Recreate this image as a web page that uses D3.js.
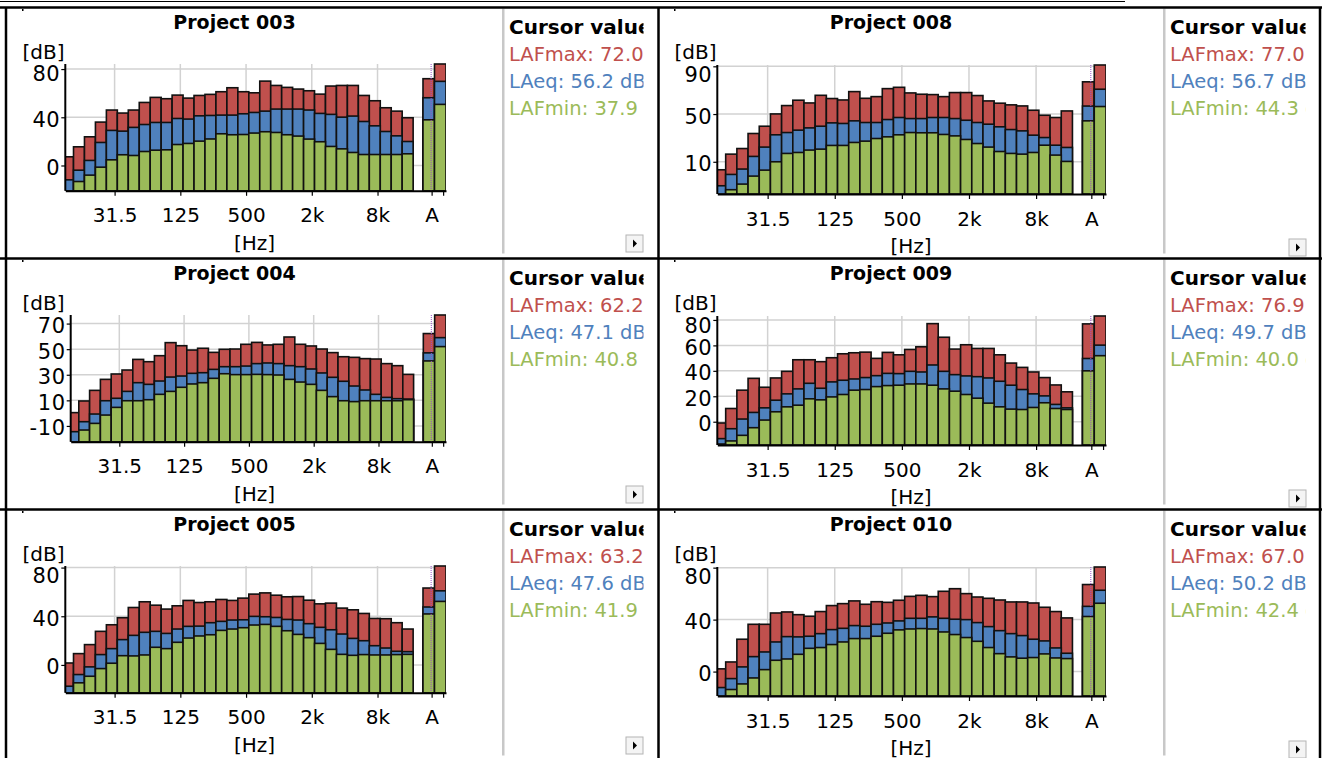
<!DOCTYPE html>
<html>
<head>
<meta charset="utf-8">
<script src="https://cdn.jsdelivr.net/npm/d3@7"></script>
<style>
  body { margin: 0; background: #fff; }
  svg { display: block; font-family: 'DejaVu Sans', Verdana, sans-serif; }
</style>
</head>
<body>
<script>
// 1/3-octave bands shown in every panel
const bands = ['12.5', '16', '20', '25', '31.5', '40', '50', '63', '80', '100', '125', '160',
  '200', '250', '315', '400', '500', '630', '800', '1k', '1.25k', '1.6k', '2k', '2.5k',
  '3.15k', '4k', '5k', '6.3k', '8k', '10k', '12.5k', '16k'];
const freqTicks = ['31.5', '125', '500', '2k', '8k'];
const overallLabels = ['A', ''];

const projects = ['Project 003', 'Project 008', 'Project 004', 'Project 009', 'Project 005', 'Project 010'];

// per band levels in dB (LAFmax, LAeq, LAFmin)
const p003Max = [7.2, 15.5, 23.8, 36.0, 46.0, 43.5, 46.0, 52.3, 56.5, 55.4, 58.4, 55.9, 58.1, 59.0, 61.2, 64.5, 61.2, 60.3, 70.0, 66.4, 64.8, 63.4, 62.0, 59.2, 65.9, 66.4, 66.4, 58.1, 53.7, 47.9, 45.1, 39.6];
const p003Eq = [-11.9, -3.9, 4.2, 19.1, 29.1, 28.5, 31.6, 34.0, 35.7, 35.7, 39.0, 38.5, 41.2, 41.5, 41.8, 41.8, 42.9, 44.0, 45.1, 46.8, 46.8, 46.8, 46.0, 43.2, 42.4, 40.1, 41.0, 36.5, 32.9, 28.2, 24.6, 19.9];
const p003Min = [-25.0, -13.3, -8.0, -1.4, 4.7, 8.9, 8.3, 11.6, 12.7, 13.0, 17.4, 18.3, 20.2, 22.0, 26.3, 25.5, 25.7, 26.9, 28.0, 27.4, 25.5, 24.4, 21.9, 19.7, 15.8, 13.8, 10.8, 9.1, 9.1, 9.1, 9.1, 9.7];

const p008Max = [3.3, 16.4, 21.1, 33.7, 39.8, 50.1, 57.1, 61.6, 59.3, 65.7, 63.0, 61.8, 68.8, 63.2, 64.6, 71.3, 72.4, 67.7, 66.6, 66.3, 64.6, 68.0, 68.0, 65.5, 61.0, 59.1, 57.7, 56.8, 53.2, 49.0, 47.1, 52.6];
const p008Eq = [-10.1, -0.6, 3.9, 14.5, 22.3, 32.6, 34.5, 36.5, 38.4, 39.8, 42.6, 42.1, 44.3, 42.9, 42.9, 45.4, 47.1, 46.2, 46.2, 47.1, 47.1, 46.2, 44.8, 42.9, 41.5, 39.3, 37.0, 35.9, 32.3, 30.3, 23.9, 22.0];
const p008Min = [-20.0, -13.4, -8.7, -2.0, 3.0, 10.0, 17.0, 17.8, 19.8, 20.6, 23.7, 23.7, 26.2, 27.3, 29.5, 30.9, 32.6, 34.5, 34.3, 34.3, 32.9, 31.7, 28.7, 25.3, 22.3, 18.6, 17.0, 16.4, 17.8, 23.9, 15.6, 10.3];

const p004Max = [0.4, 9.5, 17.8, 26.4, 30.6, 33.7, 42.0, 40.2, 44.9, 55.1, 52.7, 49.3, 50.7, 47.5, 49.9, 50.1, 53.8, 55.3, 53.3, 53.8, 59.5, 53.8, 52.5, 50.1, 47.3, 44.1, 43.6, 42.6, 42.3, 38.7, 37.1, 30.3];
const p004Eq = [-14.5, -6.7, -0.7, 9.7, 11.6, 17.0, 23.8, 22.5, 25.1, 28.2, 29.0, 31.1, 31.6, 34.2, 36.3, 36.3, 36.8, 38.7, 39.2, 38.7, 37.1, 36.3, 34.5, 31.4, 28.0, 24.9, 21.2, 18.1, 14.7, 12.3, 11.3, 11.0];
const p004Min = [-25.0, -13.2, -8.0, -1.5, 4.5, 9.7, 9.7, 10.5, 14.7, 17.0, 20.2, 22.8, 23.8, 27.2, 30.8, 30.1, 30.1, 30.3, 30.1, 29.8, 26.4, 24.3, 22.5, 17.8, 12.9, 9.7, 9.0, 9.7, 9.7, 9.7, 9.7, 10.5];

const p009Max = [-1.0, 10.4, 24.8, 34.1, 27.1, 34.4, 39.6, 48.7, 48.7, 47.2, 50.3, 53.4, 54.2, 54.7, 49.8, 54.5, 52.6, 56.8, 58.9, 77.1, 66.4, 57.1, 60.5, 57.6, 57.6, 52.6, 46.1, 42.7, 39.1, 34.7, 28.9, 23.5];
const p009Eq = [-13.3, -5.5, 2.1, 7.3, 10.9, 16.9, 21.9, 25.8, 30.2, 26.3, 31.3, 32.6, 33.6, 34.7, 36.2, 38.0, 37.8, 39.6, 39.1, 44.6, 39.6, 37.0, 36.0, 35.4, 34.4, 31.8, 28.7, 25.3, 21.9, 20.3, 13.6, 10.9];
const p009Min = [-17.5, -15.1, -10.7, -4.7, 1.3, 7.8, 11.7, 13.0, 18.0, 17.2, 19.5, 21.4, 24.8, 25.3, 27.6, 28.4, 28.7, 29.7, 29.7, 28.7, 25.8, 24.0, 21.4, 18.5, 14.6, 11.7, 9.9, 9.6, 11.2, 14.9, 10.4, 9.6];

const p005Max = [1.6, 9.3, 16.7, 27.6, 33.0, 38.8, 47.2, 51.9, 49.1, 45.9, 48.6, 53.0, 51.3, 51.9, 53.8, 53.0, 54.9, 58.2, 59.2, 57.3, 56.0, 56.2, 53.2, 50.2, 50.8, 46.7, 45.3, 42.3, 38.2, 38.0, 34.7, 29.5];
const p005Eq = [-17.5, -7.9, -1.6, 8.5, 13.4, 20.8, 24.3, 26.8, 27.6, 25.9, 29.5, 31.7, 31.9, 34.7, 35.8, 36.9, 37.1, 39.9, 39.6, 39.0, 37.4, 36.9, 33.9, 30.9, 28.9, 25.4, 21.8, 19.9, 15.8, 13.9, 11.2, 10.9];
const p005Min = [-26.0, -14.7, -9.3, -3.0, 1.4, 7.6, 7.4, 8.2, 14.5, 13.4, 18.6, 22.1, 23.8, 24.8, 28.4, 29.5, 30.6, 32.8, 33.3, 31.7, 28.1, 25.1, 22.4, 17.7, 12.8, 8.7, 7.9, 8.5, 8.2, 8.2, 8.5, 8.7];

const p010Max = [2.1, 7.4, 24.9, 36.4, 36.4, 45.1, 45.9, 43.8, 42.6, 46.2, 50.8, 52.3, 54.4, 51.8, 53.8, 53.3, 54.9, 57.9, 58.7, 57.7, 61.8, 63.8, 60.0, 57.4, 56.4, 55.1, 53.6, 53.6, 52.8, 49.5, 46.2, 41.3];
const p010Eq = [-12.3, -5.4, 3.6, 11.5, 15.1, 22.8, 26.9, 26.7, 27.2, 29.2, 32.3, 33.3, 35.4, 34.9, 36.4, 37.4, 39.0, 41.0, 41.0, 42.1, 41.0, 40.3, 40.0, 37.7, 34.6, 31.5, 29.2, 27.7, 24.9, 23.6, 18.2, 14.1];
const p010Min = [-22.0, -13.8, -9.5, -4.9, 1.5, 8.7, 9.7, 13.3, 17.9, 18.5, 20.8, 22.8, 25.4, 25.4, 27.2, 29.5, 32.1, 32.8, 33.1, 32.8, 30.5, 28.5, 26.2, 23.3, 18.5, 13.8, 11.3, 10.3, 10.8, 13.6, 10.5, 10.0];

// overall bars [A, unweighted] per project
const overallMax = [[72.0, 84.2], [77.0, 91.1], [62.2, 76.7], [76.9, 83.1], [63.2, 81.3], [67.0, 80.5]];
const overallEq = [[56.2, 69.8], [56.7, 70.8], [47.1, 59.0], [49.7, 60.2], [47.6, 60.9], [50.2, 62.6]];
const overallMin = [[37.9, 50.7], [44.3, 56.3], [40.8, 52.0], [40.0, 51.9], [41.9, 52.2], [42.4, 52.6]];

// y axis per project
const yBottoms = [-21, -17, -22.4, -18.3, -22.9, -18.8];
const yTickVals = [[0, 40, 80], [10, 50, 90], [-10, 10, 30, 50, 70], [0, 20, 40, 60, 80], [0, 40, 80], [0, 40, 80]];

const bandMax = [p003Max, p008Max, p004Max, p009Max, p005Max, p010Max];
const bandEq = [p003Eq, p008Eq, p004Eq, p009Eq, p005Eq, p010Eq];
const bandMin = [p003Min, p008Min, p004Min, p009Min, p005Min, p010Min];

const colors = { max: '#c0504d', eq: '#4f81bd', min: '#9bbb59' };

const W = 1322, H = 758;
const cols = [
  { x0: 6, divider: 503, plotRight: 446, top: 56.5, bottom: 183.3, clipRight: 643.5, btnX: 626, btnY: 227.5 },
  { x0: 658, divider: 1164, plotRight: 1106, top: 57.5, bottom: 186.5, clipRight: 1305.5, btnX: 1289, btnY: 231.5 }
];
const rowTops = [7.5, 258.5, 509.5];
const slotDomain = [0.25, 35];
const overallSlots = [32.9, 33.95];
const overallWidth = 1.05;
const tickOffset = 0.75;

const svg = d3.select('body').append('svg').attr('width', W).attr('height', H);
const defs = svg.append('defs');

projects.forEach((name, i) => {
  const c = cols[i % 2];
  const y0 = rowTops[Math.floor(i / 2)];
  const hasNeg = yTickVals[i].some(v => v < 0);
  const plotLeft = c.x0 + (hasNeg ? 64.7 : 59.3);
  const plotTop = y0 + c.top;
  const plotBottom = y0 + c.bottom;

  const g = svg.append('g');

  const x = d3.scaleLinear().domain(slotDomain).range([plotLeft, c.plotRight]);
  const top = d3.max([...bandMax[i], ...overallMax[i]]);
  const y = d3.scaleLinear().domain([yBottoms[i], top]).range([plotBottom, plotTop]);

  // grid
  g.append('g').selectAll('line').data(yTickVals[i]).join('line')
    .attr('x1', plotLeft).attr('x2', c.plotRight)
    .attr('y1', d => y(d)).attr('y2', d => y(d))
    .attr('stroke', '#d2d2d2').attr('stroke-width', 1.5);
  g.append('g').selectAll('line').data(freqTicks).join('line')
    .attr('x1', d => x(bands.indexOf(d) + tickOffset)).attr('x2', d => x(bands.indexOf(d) + tickOffset))
    .attr('y1', plotTop).attr('y2', plotBottom)
    .attr('stroke', '#d2d2d2').attr('stroke-width', 1.5);

  // bars
  const clipId = 'plot' + i;
  defs.append('clipPath').attr('id', clipId).append('rect')
    .attr('x', plotLeft).attr('y', plotTop - 2)
    .attr('width', c.plotRight - plotLeft).attr('height', plotBottom - plotTop + 2);
  const bars = g.append('g').attr('clip-path', `url(#${clipId})`);

  const series = [
    { key: 'max', band: bandMax[i], overall: overallMax[i] },
    { key: 'eq', band: bandEq[i], overall: overallEq[i] },
    { key: 'min', band: bandMin[i], overall: overallMin[i] }
  ];
  series.forEach(s => {
    const rows = s.band.map((v, j) => ({ s0: j, s1: j + 1, v }))
      .concat(s.overall.map((v, k) => ({ s0: overallSlots[k], s1: overallSlots[k] + overallWidth, v })));
    bars.append('g').selectAll('rect').data(rows).join('rect')
      .attr('x', d => x(d.s0))
      .attr('width', d => x(d.s1) - x(d.s0))
      .attr('y', d => y(d.v))
      .attr('height', d => Math.max(0, plotBottom - y(d.v)))
      .attr('fill', colors[s.key])
      .attr('stroke', '#111')
      .attr('stroke-width', 1.6);
  });

  // cursor on the A bar
  const cursorX = x(overallSlots[0] + overallWidth * tickOffset) - 0.5;
  g.append('line')
    .attr('x1', cursorX).attr('x2', cursorX)
    .attr('y1', plotTop).attr('y2', plotBottom)
    .attr('stroke', '#9b4fc8').attr('stroke-width', 1)
    .attr('stroke-dasharray', '1,1');

  // axes
  const tickSlots = freqTicks.map(f => bands.indexOf(f) + tickOffset)
    .concat(overallSlots.map(s => s + overallWidth * tickOffset));
  const tickLabels = freqTicks.concat(overallLabels);

  const xAxis = g.append('g')
    .attr('transform', `translate(0,${plotBottom})`)
    .call(d3.axisBottom(x).tickValues(tickSlots).tickFormat((d, k) => tickLabels[k]).tickSize(5).tickSizeOuter(0));
  xAxis.select('.domain').attr('stroke', '#000').attr('stroke-width', 2);
  xAxis.selectAll('.tick line').attr('stroke', '#000').attr('stroke-width', 1.2);
  xAxis.selectAll('.tick text')
    .attr('y', 31.5).attr('dy', null)
    .attr('fill', '#000')
    .style('font-size', '20px')
    .style('font-family', "'DejaVu Sans', Verdana, sans-serif");

  const yAxis = g.append('g')
    .attr('transform', `translate(${plotLeft},0)`)
    .call(d3.axisLeft(y).tickValues(yTickVals[i]).tickFormat(d => String(d))
      .tickSize(4).tickPadding(1).tickSizeOuter(0));
  yAxis.select('.domain').attr('stroke', '#000').attr('stroke-width', 2)
    .attr('d', `M0,${plotTop}V${plotBottom}`);
  yAxis.selectAll('.tick line').attr('stroke', '#000').attr('stroke-width', 1.2);
  // labels stay inside the plot height, as in the original
  yAxis.selectAll('.tick text')
    .attr('y', d => Math.max(y(d) + 1.5, plotTop + 8.6) - y(d))
    .attr('dy', '0.36em')
    .attr('fill', '#000')
    .style('font-size', '21px')
    .style('letter-spacing', '0.6px')
    .style('font-family', "'DejaVu Sans', Verdana, sans-serif");

  // titles and units
  const chartMid = (c.x0 + c.divider) / 2;
  g.append('text')
    .attr('x', chartMid - 20).attr('y', y0 + 21.5)
    .attr('text-anchor', 'middle')
    .style('font-size', '19px').style('font-weight', 'bold')
    .text(name);
  g.append('text')
    .attr('x', c.x0 + 16.5).attr('y', y0 + 51.5)
    .style('font-size', '20px')
    .text('[dB]');
  g.append('text')
    .attr('x', chartMid).attr('y', plotBottom + 59)
    .attr('text-anchor', 'middle')
    .style('font-size', '20px')
    .text('[Hz]');

  // tiny corner mark
  g.append('rect').attr('x', c.x0 + 16).attr('y', y0 + 1.5).attr('width', 1.5).attr('height', 2).attr('fill', '#000');

  // cursor value panel
  g.append('rect')
    .attr('x', c.divider - 1).attr('y', y0 + 1)
    .attr('width', 2.5).attr('height', 245)
    .attr('fill', '#c8c8c8');
  const legId = 'leg' + i;
  defs.append('clipPath').attr('id', legId).append('rect')
    .attr('x', c.divider + 2).attr('y', y0)
    .attr('width', c.clipRight - c.divider - 2).attr('height', 240);
  const leg = g.append('g').attr('clip-path', `url(#${legId})`);
  leg.append('text')
    .attr('x', c.divider + 6).attr('y', y0 + 26)
    .style('font-size', '20px').style('font-weight', 'bold')
    .text('Cursor values');
  const cursorRows = [
    { label: 'LAFmax', v: overallMax[i][0], color: colors.max },
    { label: 'LAeq', v: overallEq[i][0], color: colors.eq },
    { label: 'LAFmin', v: overallMin[i][0], color: colors.min }
  ];
  leg.selectAll('text.val').data(cursorRows).join('text')
    .attr('class', 'val')
    .attr('x', c.divider + 6)
    .attr('y', (d, k) => y0 + 53 + k * 27.3)
    .attr('fill', d => d.color)
    .style('font-size', '19.5px')
    .text(d => `${d.label}: ${d.v.toFixed(1)} dB`);

  // little scroll button
  const btnY = y0 + c.btnY;
  g.append('rect')
    .attr('x', c.btnX).attr('y', btnY)
    .attr('width', 17).attr('height', 17)
    .attr('fill', '#f4f4f4').attr('stroke', '#b4b4b4').attr('stroke-width', 1);
  g.append('path')
    .attr('d', `M${c.btnX + 7},${btnY + 4.5}L${c.btnX + 11},${btnY + 8.5}L${c.btnX + 7},${btnY + 12.5}Z`)
    .attr('fill', '#000');
});

// frame lines
const frame = svg.append('g').attr('stroke', '#000');
frame.append('line').attr('x1', 0).attr('x2', W).attr('y1', 7.5).attr('y2', 7.5).attr('stroke-width', 2.5);
frame.append('line').attr('x1', 0).attr('x2', 1125).attr('y1', 1.5).attr('y2', 1.5).attr('stroke-width', 1.2);
rowTops.slice(1).forEach(t => {
  frame.append('line').attr('x1', 0).attr('x2', W).attr('y1', t).attr('y2', t).attr('stroke-width', 2.5);
});
[6, 658.5, 1320].forEach(v => {
  frame.append('line').attr('x1', v).attr('x2', v).attr('y1', 7.5).attr('y2', H).attr('stroke-width', 2.5);
});
</script>
</body>
</html>
